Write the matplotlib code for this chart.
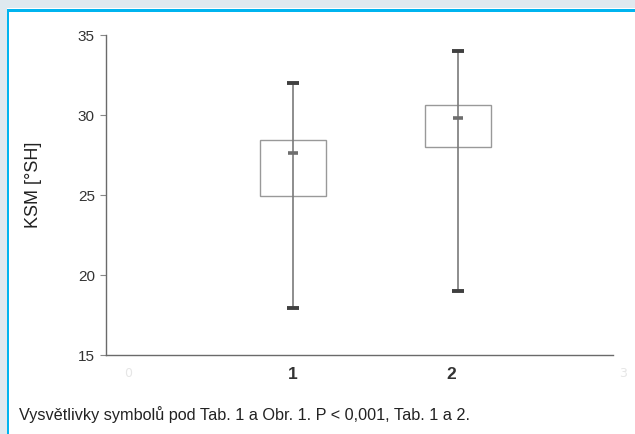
import matplotlib
matplotlib.use("Agg")
import matplotlib.pyplot as plt
from matplotlib.patches import Rectangle

# Data
categories = ["1", "2"]
positions = [1, 2]
whisker_low = [17.9, 19.0]
box_low = [24.9, 28.0]
middle = [27.6, 29.8]
box_high = [28.4, 30.6]
whisker_high = [32.0, 34.0]
yticks = [15, 20, 25, 30, 35]
caption = "Vysvětlivky symbolů pod Tab. 1 a Obr. 1. P < 0,001, Tab. 1 a 2."
ylabel = "KSM [°SH]"

W, H = 635, 435
fig = plt.figure(figsize=(W / 100, H / 100), dpi=100)
fig.patch.set_facecolor("white")

def px_rect(x0, y0, w, h, color):
    fig.patches.append(Rectangle((x0 / W, 1 - (y0 + h) / H), w / W, h / H,
                                 transform=fig.transFigure, facecolor=color,
                                 edgecolor="none", zorder=0))

band = "#dfe9ef"
px_rect(0, 0, W, 9, band)
px_rect(0, 0, 7, H, band)
px_rect(7, 10, W - 7, 2.6, "#00b4ef")
px_rect(7, 10, 2.4, H - 10, "#00b4ef")

ax = fig.add_axes([106 / W, 1 - 355.7 / H, (613 - 106) / W, (355.7 - 35.7) / H])
ax.set_facecolor("none")
ax.set_ylim(15, 35)
ax.set_xlim(-0.133, 2.94)

gray_axis = "#6a6a6a"
for s in ["top", "right"]:
    ax.spines[s].set_visible(False)
for s in ["left", "bottom"]:
    ax.spines[s].set_color(gray_axis)
    ax.spines[s].set_linewidth(1.0)

ax.set_yticks(yticks)
ax.set_yticklabels([str(t) for t in yticks], family=["Liberation Sans", "DejaVu Sans"],
                   fontsize=11, color="#333333")
ax.tick_params(axis="y", direction="out", length=4, width=0.8, color="#888888", pad=4)

ax.set_xticks([1, 1.96])
ax.set_xticklabels(categories, family=["Liberation Sans", "DejaVu Sans"],
                   fontsize=12.5, fontweight="bold", color="#333333")
ax.tick_params(axis="x", length=0, pad=8)
# faint ghost labels
for xv, lab in [(0, "0"), (3, "3")]:
    ax.text(xv, -0.035, lab, transform=ax.get_xaxis_transform(), ha="center", va="top",
            fontsize=9, color="#e6e6e6", clip_on=False)

# boxes
ax.bar(positions, [h - l for h, l in zip(box_high, box_low)], bottom=box_low, width=0.4,
       facecolor="none", edgecolor="#999999", linewidth=1.0, zorder=2)
ax.vlines(positions, whisker_low, whisker_high, color="#7a7a7a", linewidth=1.2, zorder=3)
ax.hlines(whisker_low, [p - 0.035 for p in positions], [p + 0.035 for p in positions],
          color="#404040", linewidth=2.8, zorder=4)
ax.hlines(whisker_high, [p - 0.035 for p in positions], [p + 0.035 for p in positions],
          color="#404040", linewidth=2.8, zorder=4)
ax.hlines(middle, [p - 0.032 for p in positions], [p + 0.032 for p in positions],
          color="#6e6e6e", linewidth=2.6, zorder=4)

fig.text(34 / W, 1 - 185 / H, ylabel, rotation=90, ha="center", va="center",
         family=["Liberation Sans", "DejaVu Sans"], fontsize=13, color="#222222")

fig.text(19 / W, 1 - 415 / H, caption, ha="left", va="center",
         family=["Liberation Sans", "DejaVu Sans"],
         fontsize=11.7, color="#222222")

fig.savefig("out.png", dpi=100, facecolor=fig.get_facecolor())
